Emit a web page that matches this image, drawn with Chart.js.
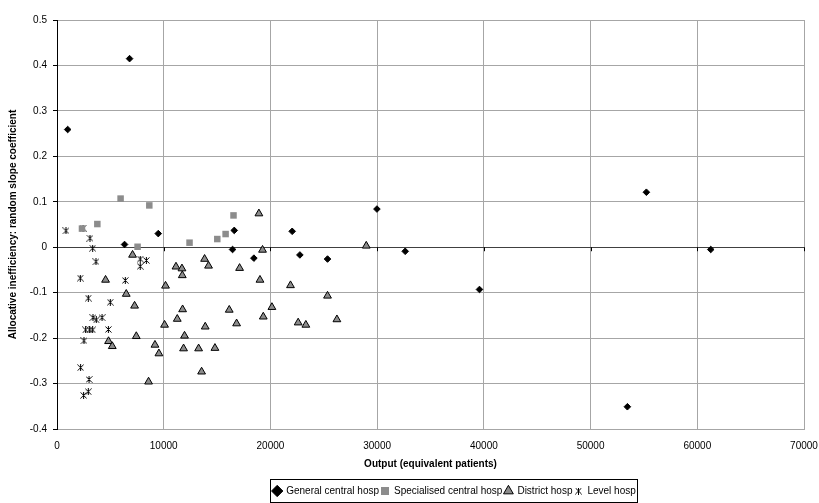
<!DOCTYPE html>
<html>
<head>
<meta charset="utf-8">
<script src="https://cdn.jsdelivr.net/npm/chart.js@4.4.1/dist/chart.umd.min.js"></script>
<style>
  html, body { margin: 0; padding: 0; background: #fff; }
  #wrap { width: 819px; height: 503px; }
</style>
</head>
<body>
<div id="wrap"><canvas id="scatterChart" width="819" height="503"></canvas></div>
<script>
// Données
const generalX = [1000, 6800, 6330, 9490, 16610, 16450, 18450, 22040, 22760, 25350, 29980, 32630, 39590, 53450, 55230, 61260];
const generalY = [0.259, 0.415, 0.006, 0.030, 0.037, -0.005, -0.024, 0.035, -0.017, -0.026, 0.084, -0.009, -0.093, -0.351, 0.121, -0.005];

const specialisedX = [2340, 3780, 5960, 7550, 8650, 12420, 15020, 15800, 16540];
const specialisedY = [0.041, 0.051, 0.107, 0.001, 0.092, 0.010, 0.018, 0.029, 0.070];

const districtX = [4550, 7080, 6490, 7270, 7430, 4830, 5180, 8580, 9180, 9550, 10170, 10080, 11150, 11710, 11740, 11270, 11770, 11950, 11860, 13270, 13550, 13890, 13830, 14200, 14800, 16140, 16830, 17110, 18920, 19020, 19260, 19330, 20140, 21880, 25350, 22600, 23320, 26230, 28980];
const districtY = [-0.072, -0.017, -0.103, -0.129, -0.196, -0.207, -0.218, -0.296, -0.215, -0.234, -0.085, -0.171, -0.043, -0.047, -0.062, -0.158, -0.137, -0.195, -0.223, -0.223, -0.274, -0.175, -0.026, -0.041, -0.222, -0.138, -0.168, -0.046, 0.074, -0.072, -0.006, -0.153, -0.132, -0.084, -0.107, -0.166, -0.171, -0.159, 0.003];

const levelX = [840, 2440, 3090, 3340, 3650, 2180, 2930, 6400, 7800, 7800, 8370, 4990, 3370, 3680, 4220, 2680, 3060, 3340, 4810, 2530, 2210, 3000, 2930, 2490];
const levelY = [0.036, 0.042, 0.020, -0.002, -0.032, -0.068, -0.112, -0.073, -0.026, -0.042, -0.029, -0.121, -0.155, -0.160, -0.155, -0.182, -0.182, -0.182, -0.181, -0.206, -0.265, -0.291, -0.318, -0.326];

const seriesNames = ['General central hosp', 'Specialised central hosp', 'District hosp', 'Level hosp'];
const xTicks = [0, 10000, 20000, 30000, 40000, 50000, 60000, 70000];
const yTicks = [-0.4, -0.3, -0.2, -0.1, 0, 0.1, 0.2, 0.3, 0.4, 0.5];

const FONT = "'Liberation Sans', Arial, sans-serif";

function toPoints(xs, ys) {
    return xs.map((x, i) => ({ x: x, y: ys[i] }));
}

// marqueur astérisque façon Excel
function makeAsterisk(size) {
    const c = document.createElement('canvas');
    c.width = size; c.height = size;
    const g = c.getContext('2d');
    const m = size / 2, r = size / 2 - 0.5;
    g.strokeStyle = '#000';
    g.lineWidth = 1;
    g.beginPath();
    g.moveTo(m, 0); g.lineTo(m, size);
    g.moveTo(m - r, m - r); g.lineTo(m + r, m + r);
    g.moveTo(m + r, m - r); g.lineTo(m - r, m + r);
    g.stroke();
    return c;
}
const asterisk = makeAsterisk(7);

const LEGEND_SHIFT = 45;

// cadre autour de la légende + petites graduations sur l'axe zéro
const extrasPlugin = {
    id: 'extras',
    afterUpdate(chart) {
        // décale la légende vers la droite comme dans l'original
        const lg = chart.legend;
        lg.left += LEGEND_SHIFT;
        lg.right += LEGEND_SHIFT;
    },
    afterDraw(chart) {
        const ctx = chart.ctx;
        const xs = chart.scales.x, ys = chart.scales.y;
        const y0 = ys.getPixelForValue(0);
        ctx.save();
        ctx.strokeStyle = '#000';
        ctx.lineWidth = 1;
        ctx.beginPath();
        xTicks.forEach(v => {
            const px = Math.round(xs.getPixelForValue(v)) + 0.5;
            ctx.moveTo(px, y0);
            ctx.lineTo(px, y0 + 4);
        });
        ctx.stroke();

        const lg = chart.legend;
        const w = lg.lineWidths[0];
        const l = Math.round((lg.left + lg.right) / 2 - w / 2);
        ctx.strokeRect(l - 1.5, Math.round(lg.top) - 4.5, Math.round(w) + 2, 23);
        ctx.restore();
    }
};

document.addEventListener('DOMContentLoaded', () => {
    const ctx = document.getElementById('scatterChart').getContext('2d');
    new Chart(ctx, {
        type: 'scatter',
        data: {
            datasets: [{
                label: seriesNames[0],
                data: toPoints(generalX, generalY),
                pointStyle: 'rectRot',
                pointRadius: 3.3,
                backgroundColor: '#000',
                borderColor: '#000',
                borderWidth: 1
            }, {
                label: seriesNames[1],
                data: toPoints(specialisedX, specialisedY),
                pointStyle: 'rect',
                pointRadius: 4.6,
                backgroundColor: '#8c8c8c',
                borderColor: '#8c8c8c',
                borderWidth: 0
            }, {
                label: seriesNames[2],
                data: toPoints(districtX, districtY),
                pointStyle: 'triangle',
                pointRadius: 4.5,
                backgroundColor: '#8c8c8c',
                borderColor: '#000',
                borderWidth: 1
            }, {
                label: seriesNames[3],
                data: toPoints(levelX, levelY),
                pointStyle: asterisk,
                pointRadius: 3.5,
                backgroundColor: '#000',
                borderColor: '#000'
            }]
        },
        options: {
            responsive: false,
            animation: false,
            layout: {
                padding: { top: 20, right: 0, bottom: -3, left: 0 }
            },
            plugins: {
                tooltip: { enabled: false },
                legend: {
                    display: true,
                    position: 'bottom',
                    labels: {
                        usePointStyle: true,
                        boxWidth: 8,
                        boxHeight: 8,
                        padding: 2,
                        color: '#000',
                        font: { family: FONT, size: 10 }
                    }
                }
            },
            scales: {
                x: {
                    type: 'linear',
                    min: 0,
                    max: 70000,
                    afterBuildTicks: s => { s.ticks = xTicks.map(v => ({ value: v })); },
                    afterFit: s => { s.height = 55; s.paddingLeft = 0; s.paddingRight = 15; },
                    grid: {
                        color: '#a6a6a6',
                        drawTicks: false
                    },
                    border: { color: '#a6a6a6' },
                    ticks: {
                        padding: 11,
                        color: '#000',
                        maxRotation: 0,
                        font: { family: FONT, size: 10 },
                        callback: v => String(v)
                    },
                    title: {
                        display: true,
                        text: 'Output (equivalent patients)',
                        color: '#000',
                        font: { family: FONT, size: 10, weight: 'bold' },
                        padding: { top: 0, bottom: 14 }
                    }
                },
                y: {
                    type: 'linear',
                    min: -0.4,
                    max: 0.5,
                    afterBuildTicks: s => { s.ticks = yTicks.map(v => ({ value: v })); },
                    afterFit: s => { s.width = 57; },
                    grid: {
                        color: c => (c.tick && Math.abs(c.tick.value) < 1e-9) ? '#404040' : '#a6a6a6',
                        tickColor: '#000',
                        tickLength: 4
                    },
                    border: { color: '#000' },
                    ticks: {
                        padding: 6,
                        color: '#000',
                        font: { family: FONT, size: 10 },
                        callback: v => String(Math.round(v * 10) / 10)
                    },
                    title: {
                        display: true,
                        text: 'Allocative inefficiency: random slope coefficient',
                        color: '#000',
                        font: { family: FONT, size: 10, weight: 'bold' },
                        padding: { top: 7, bottom: 0 }
                    }
                }
            }
        },
        plugins: [extrasPlugin]
    });
});
</script>
</body>
</html>
